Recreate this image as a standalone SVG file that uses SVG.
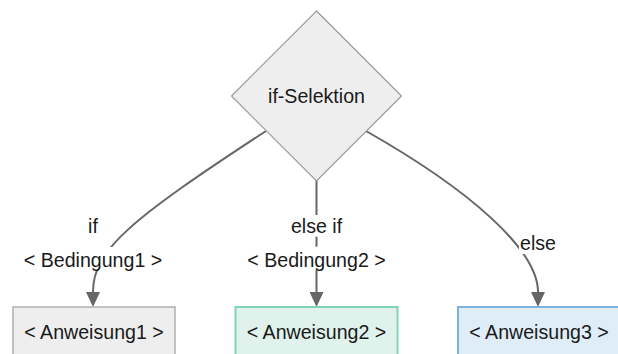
<svg xmlns="http://www.w3.org/2000/svg" width="618" height="354" viewBox="0 0 618 354">
<style>
text{font-family:"Liberation Sans",Arial,sans-serif;font-size:19.6px;fill:#1a1a1a;text-anchor:middle}
.edge{fill:none;stroke:#666;stroke-width:2;marker-end:url(#arr)}
.lbg{fill:#fff}
.n1{fill:#eeeeee;stroke:#b0b0b0;stroke-width:1.5}
.n2{fill:#dff3ec;stroke:#80d4b6;stroke-width:2}
.n3{fill:#deedf7;stroke:#7ab4dc;stroke-width:2}
</style>
<defs>
<marker id="arr" viewBox="0 0 15 14" refX="0" refY="7" markerWidth="15" markerHeight="14" markerUnits="userSpaceOnUse" orient="auto">
<path d="M0,0 L15,7 L0,14 Z" fill="#666"/>
</marker>
</defs>
<g id="connectors">
<path class="edge" d="M266,131 C130,220 93,250 93,292"/>
<path class="edge" d="M316.5,180 L316.5,292"/>
<path class="edge" d="M366,131 C470,190 538,250 538,292"/>
<g id="edge-labels">
<rect class="lbg" x="86" y="214.5" width="14" height="22"/>
<text x="93" y="233.3">if</text>
<rect class="lbg" x="23" y="247" width="141" height="23"/>
<text x="93" y="266.7">&lt; Bedingung1 &gt;</text>
<rect class="lbg" x="290" y="215" width="53" height="21.7"/>
<text x="316.5" y="233.3">else if</text>
<rect class="lbg" x="246" y="246.7" width="141" height="23.3"/>
<text x="316.5" y="266.7">&lt; Bedingung2 &gt;</text>
<rect class="lbg" x="519" y="231" width="39" height="23"/>
<text x="538" y="250">else</text>
</g>
</g>
<g id="node-if">
<path d="M316.5,11 L401.5,96 L316.5,181 L231.5,96 Z" fill="#eeeeee" stroke="#999" stroke-width="1.2"/>
<text x="316.5" y="103">if-Selektion</text>
</g>
<g id="node-a1">
<rect class="n1" x="13" y="307" width="162" height="52"/>
<text x="94" y="338.5">&lt; Anweisung1 &gt;</text>
</g>
<g id="node-a2">
<rect class="n2" x="235.5" y="307" width="162" height="52"/>
<text x="316.5" y="338.5">&lt; Anweisung2 &gt;</text>
</g>
<g id="node-a3">
<rect class="n3" x="458" y="307" width="162" height="52"/>
<text x="539" y="338.5">&lt; Anweisung3 &gt;</text>
</g>
</svg>
